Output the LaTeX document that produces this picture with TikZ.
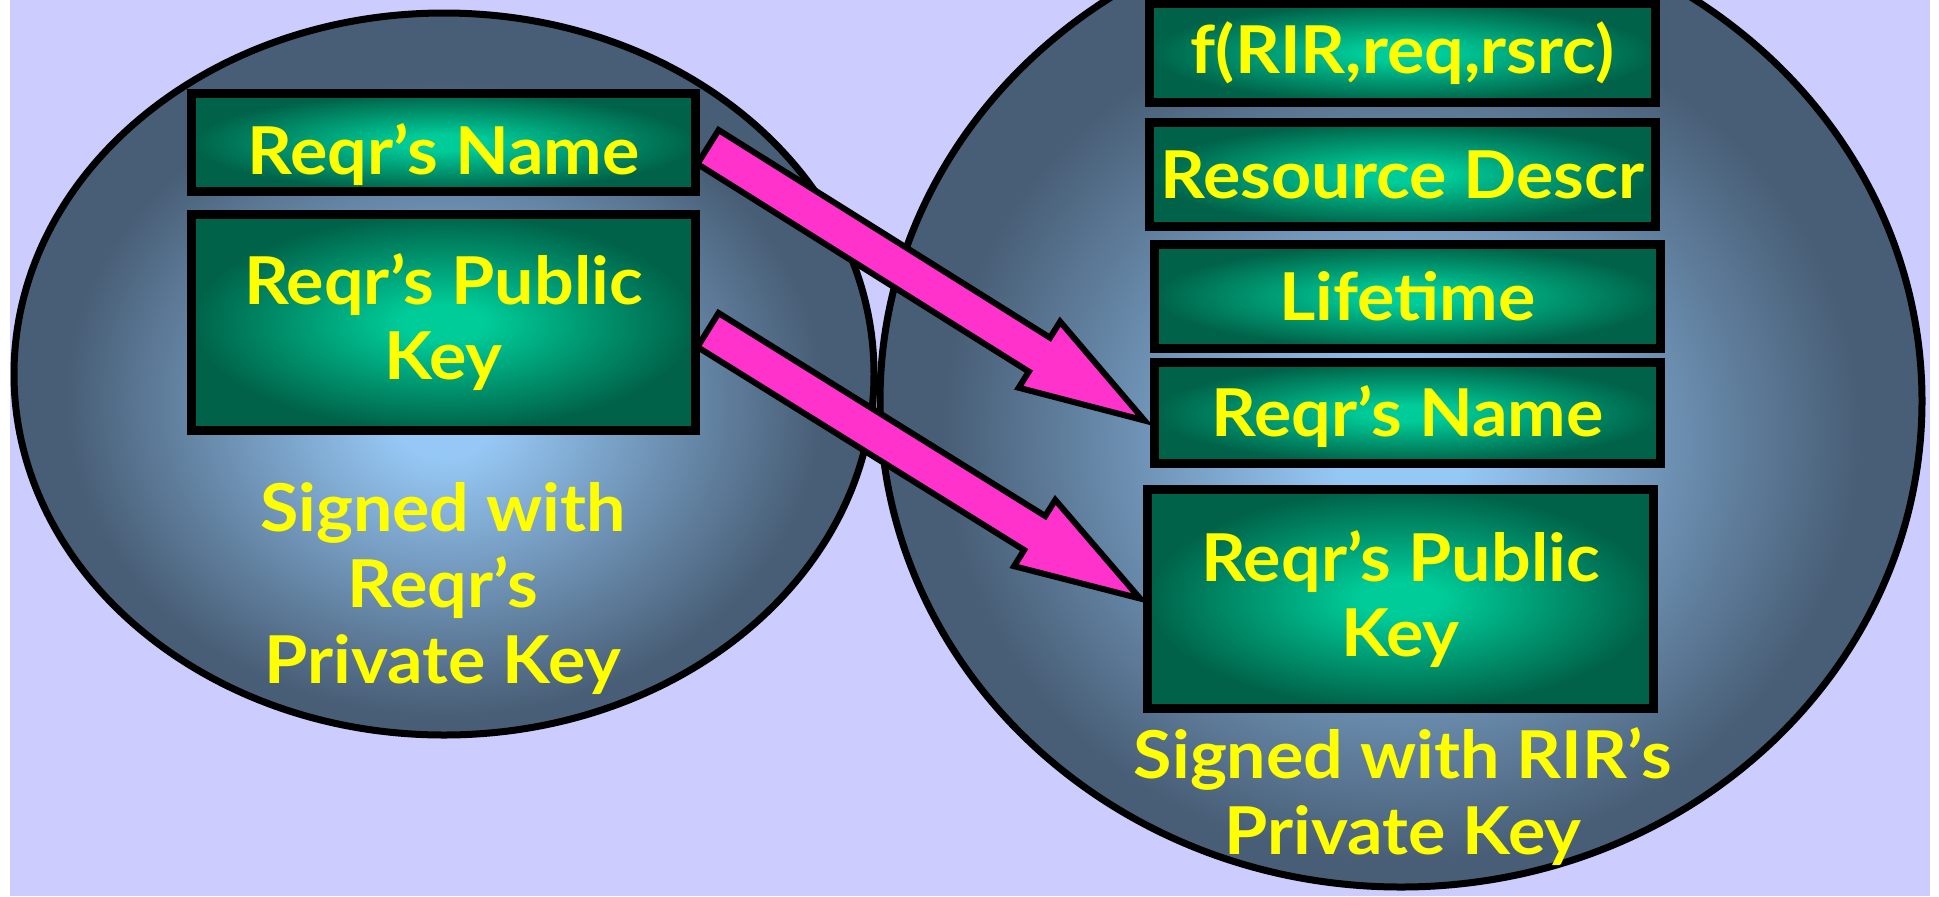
\documentclass[tikz,border=0pt]{standalone}
\usepackage{fontspec}
\setmainfont{Lato}[FakeStretch=1.06]
\usetikzlibrary{calc,shapes.geometric}
\definecolor{bglav}{RGB}{204,204,255}
\definecolor{elin}{RGB}{150,200,245}
\definecolor{elout}{RGB}{72,94,118}
\definecolor{bxin}{RGB}{0,204,153}
\definecolor{bxout}{RGB}{0,98,72}
\definecolor{arrpink}{RGB}{255,51,204}
\definecolor{txtyel}{RGB}{255,255,0}
\pgfdeclareradialshading{ellshade}{\pgfpoint{0bp}{-3bp}}{color(0bp)=(elin); color(3bp)=(elin); color(22bp)=(elout); color(50bp)=(elout)}
\pgfdeclareradialshading{boxshade}{\pgfpoint{0bp}{0bp}}{color(0bp)=(bxin); color(4bp)=(bxin); color(25bp)=(bxout); color(50bp)=(bxout)}
\begin{document}
\begin{tikzpicture}[x=0.5pt,y=-0.5pt,
  oval/.style={ellipse, draw=black, line width=3.5pt, shade, shading=ellshade, inner sep=0pt, outer sep=0pt},
  field/.style={rectangle, draw=black, line width=4.2pt, shade, shading=boxshade, inner sep=0pt, outer sep=0pt,
    font=\bfseries\fontsize{33}{37.5}\selectfont, text=txtyel, align=center},
  caption/.style={font=\bfseries\fontsize{33}{38}\selectfont, text=txtyel, align=center, inner sep=0pt},
  blockarrow/.style={draw=black, fill=arrpink, line width=3pt, line join=miter}
]
\useasboundingbox (0,0) rectangle (1939,896);
\clip (0,0) rectangle (1939,896);
\fill[white] (0,0) rectangle (1939,896);
\fill[bglav] (10,0) rectangle (1930,896);

% containers
\node[oval, minimum width=430pt, minimum height=361pt] (LE) at (444,374) {};
\node[oval, minimum width=521pt, minimum height=486pt] (RE) at (1401,401) {};

% left fields
\node[field, minimum width=252pt, minimum height=49pt] (LN) at (443.5,142.5) {\raisebox{-6pt}[\height][\depth]{Reqr's Name}};
\node[field, minimum width=252pt, minimum height=108pt] (LK) at (443.5,322.5) {Reqr's Public\\Key};

% right fields
\node[field, minimum width=253pt, minimum height=49.5pt] (RF) at (1402.5,53) {f(RIR,req,rsrc)};
\node[field, minimum width=253pt, minimum height=52pt] (RR) at (1402.5,174.5) {Resource Descr};
\node[field, minimum width=253pt, minimum height=52pt] (RL) at (1407.5,296.5) {Lifetime};
\node[field, minimum width=253pt, minimum height=50.5pt] (RN) at (1407.5,413) {\raisebox{-2pt}[\height][\depth]{Reqr's Name}};
\node[field, minimum width=253pt, minimum height=109.5pt] (RK) at (1400.5,599) {Reqr's Public\\Key};

% captions
\node[caption] (LC) at (443,588) {Signed with\\Reqr's\\Private Key};
\node[caption] (RC) at (1403,797) {Signed with RIR's\\Private Key};

% arrows
\coordinate (a1s) at ($(LN.east)+(12.5,4.5)$);
\coordinate (a1e) at ($(RN.west)+(-10,7.5)$);
\coordinate (a1h) at ($(a1e)!62pt!(a1s)$);
\draw[blockarrow] ($(a1s)!10pt!90:(a1e)$) -- ($(a1h)!10pt!90:(a1e)$) -- ($(a1h)!19.5pt!90:(a1e)$) -- (a1e)
  -- ($(a1h)!19.5pt!-90:(a1e)$) -- ($(a1h)!10pt!-90:(a1e)$) -- ($(a1s)!10pt!-90:(a1e)$) -- cycle;

\coordinate (a2s) at ($(LK.east)+(12.5,7.5)$);
\coordinate (a2e) at ($(RK.west)+(-7.5,-0.5)$);
\coordinate (a2h) at ($(a2e)!62pt!(a2s)$);
\draw[blockarrow] ($(a2s)!10pt!90:(a2e)$) -- ($(a2h)!10pt!90:(a2e)$) -- ($(a2h)!19.5pt!90:(a2e)$) -- (a2e)
  -- ($(a2h)!19.5pt!-90:(a2e)$) -- ($(a2h)!10pt!-90:(a2e)$) -- ($(a2s)!10pt!-90:(a2e)$) -- cycle;
\end{tikzpicture}
\end{document}
